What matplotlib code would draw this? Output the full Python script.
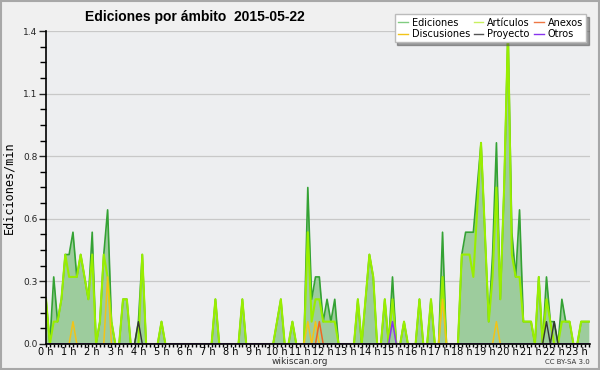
import numpy as np
import matplotlib
matplotlib.use("Agg")
import matplotlib.pyplot as plt
from matplotlib.ticker import MultipleLocator, FixedLocator

# 10-minute bins, value = edits per minute
# Ediciones (total), two hours per row
ediciones = [
    0.2, 0.0, 0.3, 0.1, 0.2, 0.4, 0.4, 0.5, 0.3, 0.4, 0.3, 0.2,
    0.5, 0.0, 0.1, 0.4, 0.6, 0.1, 0.0, 0.0, 0.2, 0.2, 0.0, 0.0,
    0.1, 0.4, 0.0, 0.0, 0.0, 0.0, 0.1, 0.0, 0.0, 0.0, 0.0, 0.0,
    0.0, 0.0, 0.0, 0.0, 0.0, 0.0, 0.0, 0.0, 0.2, 0.0, 0.0, 0.0,
    0.0, 0.0, 0.0, 0.2, 0.0, 0.0, 0.0, 0.0, 0.0, 0.0, 0.0, 0.0,
    0.1, 0.2, 0.0, 0.0, 0.1, 0.0, 0.0, 0.0, 0.7, 0.2, 0.3, 0.3,
    0.1, 0.2, 0.1, 0.2, 0.0, 0.0, 0.0, 0.0, 0.0, 0.2, 0.0, 0.2,
    0.4, 0.3, 0.0, 0.0, 0.2, 0.0, 0.3, 0.0, 0.0, 0.1, 0.0, 0.0,
    0.0, 0.2, 0.0, 0.0, 0.2, 0.0, 0.0, 0.5, 0.0, 0.0, 0.0, 0.0,
    0.4, 0.5, 0.5, 0.5, 0.7, 0.9, 0.5, 0.1, 0.4, 0.9, 0.2, 0.7,
    1.4, 0.5, 0.3, 0.6, 0.1, 0.1, 0.1, 0.0, 0.3, 0.0, 0.3, 0.1,
    0.1, 0.0, 0.2, 0.1, 0.1, 0.0, 0.0, 0.1, 0.1, 0.1,
]
articulos = [
    0.2, 0.0, 0.1, 0.1, 0.2, 0.4, 0.3, 0.3, 0.3, 0.4, 0.3, 0.2,
    0.4, 0.0, 0.1, 0.4, 0.3, 0.1, 0.0, 0.0, 0.2, 0.2, 0.0, 0.0,
    0.0, 0.4, 0.0, 0.0, 0.0, 0.0, 0.1, 0.0, 0.0, 0.0, 0.0, 0.0,
    0.0, 0.0, 0.0, 0.0, 0.0, 0.0, 0.0, 0.0, 0.2, 0.0, 0.0, 0.0,
    0.0, 0.0, 0.0, 0.2, 0.0, 0.0, 0.0, 0.0, 0.0, 0.0, 0.0, 0.0,
    0.1, 0.2, 0.0, 0.0, 0.1, 0.0, 0.0, 0.0, 0.5, 0.1, 0.2, 0.2,
    0.1, 0.1, 0.1, 0.1, 0.0, 0.0, 0.0, 0.0, 0.0, 0.2, 0.0, 0.2,
    0.4, 0.3, 0.0, 0.0, 0.2, 0.0, 0.2, 0.0, 0.0, 0.1, 0.0, 0.0,
    0.0, 0.2, 0.0, 0.0, 0.2, 0.0, 0.0, 0.3, 0.0, 0.0, 0.0, 0.0,
    0.4, 0.4, 0.4, 0.3, 0.6, 0.9, 0.5, 0.1, 0.3, 0.7, 0.2, 0.7,
    1.4, 0.4, 0.3, 0.3, 0.1, 0.1, 0.1, 0.0, 0.3, 0.0, 0.2, 0.1,
    0.0, 0.0, 0.1, 0.1, 0.1, 0.0, 0.0, 0.1, 0.1, 0.1,
]
# sparse series: bin index -> value
discusiones_bins = [7, 16, 68, 70, 103, 117]
discusiones_vals = [0.1, 0.3, 0.1, 0.1, 0.2, 0.1]
anexos_bins = [71]
anexos_vals = [0.1]
proyecto_bins = [24, 130, 132]
proyecto_vals = [0.1, 0.1, 0.1]
otros_bins = [90]
otros_vals = [0.1]

hour_labels = [f"{h} h" for h in range(24)]

n = len(ediciones)
hours = np.arange(n) / 6.0


def sparse(bins, vals):
    arr = np.zeros(n)
    arr[bins] = vals
    return arr


discusiones = sparse(discusiones_bins, discusiones_vals)
anexos = sparse(anexos_bins, anexos_vals)
proyecto = sparse(proyecto_bins, proyecto_vals)
otros = sparse(otros_bins, otros_vals)

fig = plt.figure(figsize=(6, 3.7), dpi=100, facecolor="#f0f0f0")
ax = fig.add_axes([0.0767, 0.0703, 0.9066, 0.8459])
ax.set_facecolor("#edeef0")

# border round the whole picture
fig.patches.append(plt.Rectangle((0.001, 0.002), 0.997, 0.996, transform=fig.transFigure,
                                 fill=False, edgecolor="#a8a8a8", linewidth=1.5))

ax.fill_between(hours, ediciones, color="#9dcc9d", linewidth=0, zorder=1)
ax.plot(hours, ediciones, color="#34a234", lw=1.2, zorder=2)
ax.plot(hours, articulos, color="#99ee00", lw=1.5, zorder=3)
ax.plot(hours, discusiones, color="#f2c418", lw=1.1, zorder=4)
ax.plot(hours, anexos, color="#ee6622", lw=1.1, zorder=4)
ax.plot(hours, proyecto, color="#333333", lw=1.0, zorder=4)
ax.plot(hours, otros, color="#8833ee", lw=1.1, zorder=4)

ax.set_xlim(0, 23.55)
ax.set_ylim(0, 1.4)

yt = np.linspace(0, 1.4, 6)
ax.yaxis.set_major_locator(FixedLocator(yt))
ax.set_yticklabels([f"{v:.1f}" for v in yt])
ax.yaxis.set_minor_locator(MultipleLocator(0.07))
ax.xaxis.set_major_locator(FixedLocator(range(24)))
ax.set_xticklabels(hour_labels)
ax.xaxis.set_minor_locator(MultipleLocator(1 / 6))

ax.grid(axis="y", color="#c8c8c8", lw=0.9)
ax.set_axisbelow(True)
for s in ["top", "right"]:
    ax.spines[s].set_visible(False)
for s in ["left", "bottom"]:
    ax.spines[s].set_linewidth(1.2)
    ax.spines[s].set_zorder(6)

ax.tick_params(axis="y", which="major", length=5, width=1, labelsize=6.5, pad=1, colors="#222222")
ax.tick_params(axis="y", which="minor", length=4, width=1)
ax.tick_params(axis="x", which="both", length=2.5, width=1, labelsize=7, pad=0)

ax.set_ylabel("Ediciones/min", family="DejaVu Sans Mono", fontsize=8.5, labelpad=6)

fig.text(0.142, 0.955, "Ediciones por ámbito  2015-05-22", family="Liberation Sans",
         fontsize=10, fontweight="bold", va="center", ha="left")
fig.text(0.5, 0.022, "wikiscan.org", fontsize=6.5, ha="center", va="center", color="#333333")
fig.text(0.983, 0.022, "CC BY-SA 3.0", fontsize=5, ha="right", va="center", color="#333333")

handles = [
    plt.Line2D([], [], color="#80cc80", lw=1),
    plt.Line2D([], [], color="#f2c418", lw=1),
    plt.Line2D([], [], color="#c8f060", lw=1),
    plt.Line2D([], [], color="#555555", lw=1),
    plt.Line2D([], [], color="#ee7744", lw=1),
    plt.Line2D([], [], color="#8833ee", lw=1),
]
labels = ["Ediciones", "Discusiones", "Artículos", "Proyecto", "Anexos", "Otros"]
leg = fig.legend(handles, labels, ncol=3, loc="upper right", bbox_to_anchor=(0.985, 0.975),
                 fontsize=7, frameon=True, fancybox=False, shadow=True, handlelength=1.0,
                 handletextpad=0.4, columnspacing=0.4, labelspacing=0.15, borderpad=0.35)
leg.get_frame().set_edgecolor("#bbbbbb")
leg.get_frame().set_facecolor("white")

fig.savefig("out.png", dpi=100, facecolor=fig.get_facecolor())
